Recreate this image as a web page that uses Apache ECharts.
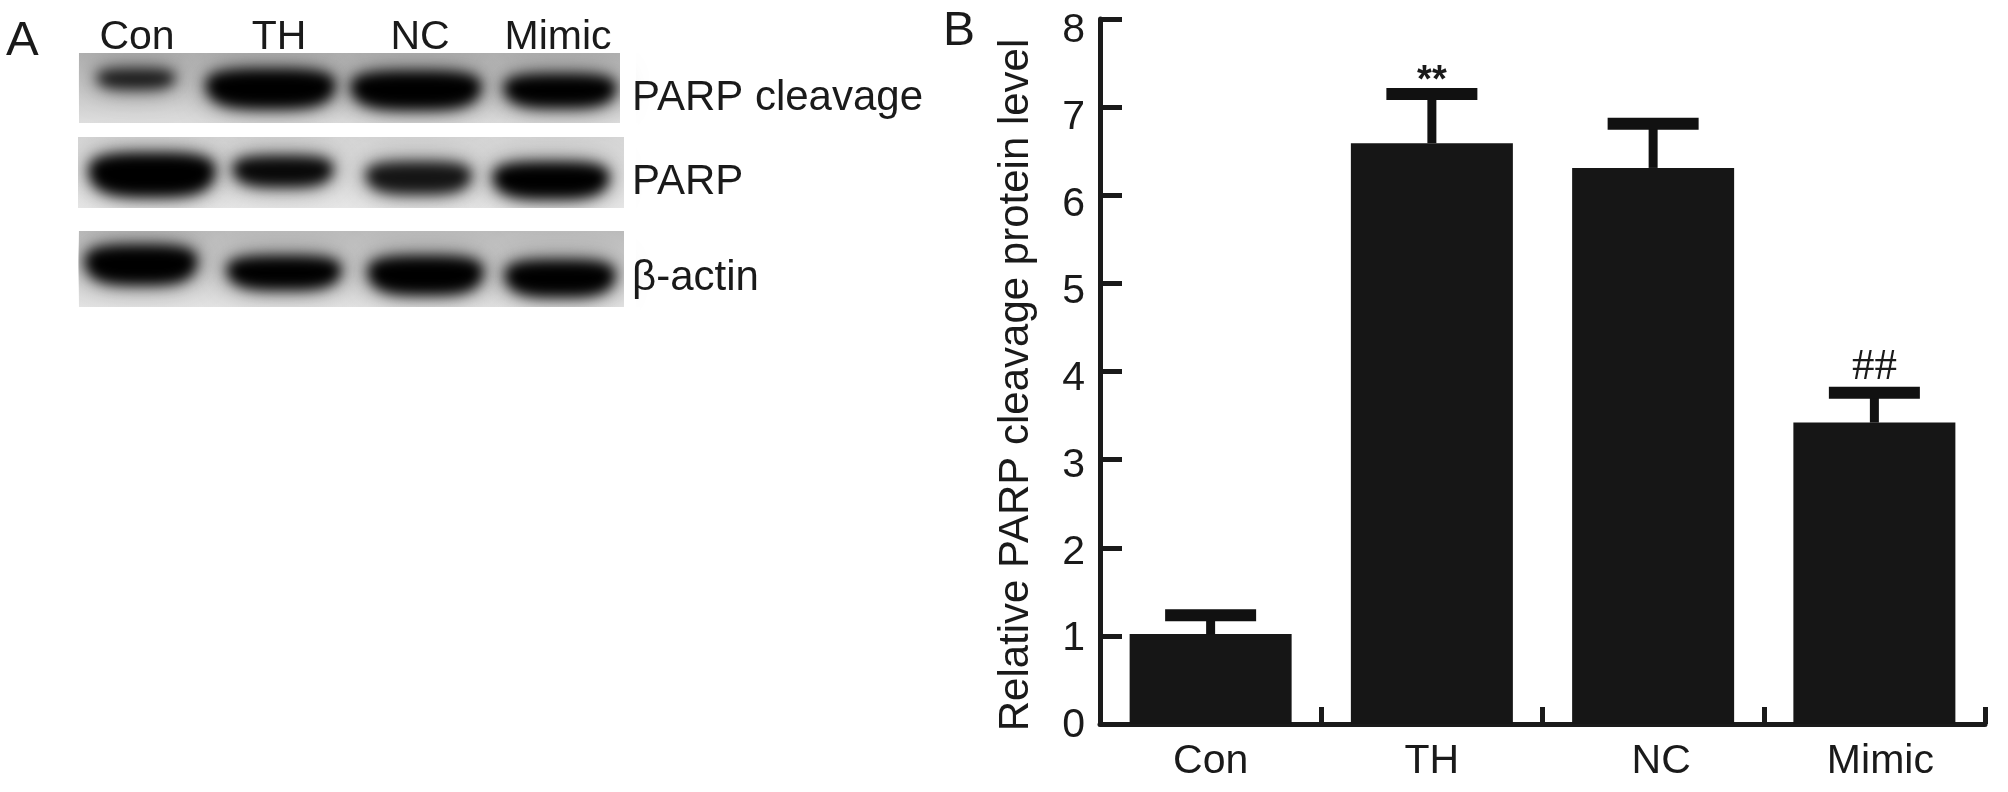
<!DOCTYPE html>
<html>
<head>
<meta charset="utf-8">
<style>
html, body { margin: 0; background: #fff; }
#main { width: 2008px; height: 792px; }
</style>
<script src="https://cdn.jsdelivr.net/npm/echarts@6/dist/echarts.min.js"></script>
</head>
<body>
<div id="main"></div>
<script>
var categories = ['Con', 'TH', 'NC', 'Mimic'];
var barValues = [1.02, 6.59, 6.31, 3.42];
var errorTops = [1.235, 7.15, 6.81, 3.76];
var significance = ['', '**', '', '##'];
var yTicks = ['0', '1', '2', '3', '4', '5', '6', '7', '8'];

// band darkness in the blot, 0 to 1
var blotNames = ['PARP cleavage', 'PARP', 'β-actin'];
var cleavageBands = [0.9, 1, 1, 1];
var parpBands = [1, 0.97, 0.92, 1];
var actinBands = [1, 1, 1, 1];

var FONT = '"Liberation Sans", Arial, sans-serif';
var INK = '#1a1a1a';
var OFF = 3000; // bands are drawn off canvas, only their blurred shadow lands on the blot

// blot layout, pixels
var blotRows = [
    { values: cleavageBands, x: 79, y: 53, w: 541, h: 70, top: '#b0b0b0', bottom: '#dedede', labelY: 108,
      boxes: [[96, 70, 176, 88], [205, 70, 336, 108], [350, 72, 482, 109], [503, 75, 617, 107]] },
    { values: parpBands, x: 78, y: 137, w: 546, h: 71, top: '#d6d6d6', bottom: '#e8e8e8', labelY: 192,
      boxes: [[88, 154, 216, 196], [232, 157, 334, 186], [365, 163, 472, 193], [492, 163, 610, 198]] },
    { values: actinBands, x: 79, y: 231, w: 545, h: 76, top: '#bcbcbc', bottom: '#e4e4e4', labelY: 288,
      boxes: [[84, 246, 198, 284], [226, 257, 342, 289], [367, 257, 484, 294], [504, 261, 616, 296]] }
];
var laneCenters = [137, 279, 420, 558];
// small nudges of the x labels, as they sit in the figure
var xLabelPad = [0, 0, 16, 12];

function bandPoints(b, grow) {
    // flat-ish top, deeper belly, like the smeared bands
    var cx = (b[0] + b[2]) / 2, rx = (b[2] - b[0]) / 2 - 2 + grow;
    var split = b[1] + (b[3] - b[1]) * 0.36;
    var rt = split - b[1] + grow, rb = b[3] - split + grow;
    var pts = [];
    for (var i = 0; i < 64; i++) {
        var a = i / 64 * Math.PI * 2;
        var c = Math.cos(a), s = Math.sin(a);
        var px = cx + rx * (c < 0 ? -1 : 1) * Math.pow(Math.abs(c), 0.6);
        var py = split + (s < 0 ? rt : rb) * (s < 0 ? -1 : 1) * Math.pow(Math.abs(s), 0.8);
        pts.push([px - OFF, py]);
    }
    return pts;
}

function labelText(str, x, baseline, size, align) {
    return {
        type: 'text', z: 5, x: x, y: baseline - size * 0.23,
        style: { text: str, font: size + 'px ' + FONT, fill: INK, verticalAlign: 'middle', align: align || 'left' }
    };
}

function buildBlots() {
    var els = [];
    blotRows.forEach(function (row, r) {
        els.push({
            type: 'rect', z: 1,
            shape: { x: row.x, y: row.y, width: row.w, height: row.h },
            style: { fill: new echarts.graphic.LinearGradient(0, 0, 0, 1, [
                { offset: 0, color: row.top }, { offset: 1, color: row.bottom }]) }
        });
        row.boxes.forEach(function (b, i) {
            var g = Math.round((1 - row.values[i]) * 255);
            var col = 'rgb(' + g + ',' + g + ',' + g + ')';
            // soft smear first, then the dense core
            els.push({
                type: 'polygon', z: 2,
                shape: { points: bandPoints(b, 6) },
                style: { fill: '#000', shadowColor: 'rgba(0,0,0,0.3)', shadowBlur: 26, shadowOffsetX: OFF }
            });
            els.push({
                type: 'polygon', z: 2,
                shape: { points: bandPoints(b, 1) },
                style: { fill: '#000', shadowColor: col, shadowBlur: 13, shadowOffsetX: OFF }
            });
        });
        els.push(labelText(blotNames[r], 632, row.labelY, 42));
    });
    // white strips keep the blur inside each blot
    [[0, 0, 78, 360], [624, 0, 12, 360], [620, 0, 4, 137], [78, 123, 560, 14], [78, 208, 560, 23], [70, 307, 570, 50], [70, 0, 570, 53]]
        .forEach(function (m) {
            els.push({ type: 'rect', z: 3, shape: { x: m[0], y: m[1], width: m[2], height: m[3] }, style: { fill: '#fff' } });
        });
    categories.forEach(function (c, i) {
        els.push(labelText(c, laneCenters[i], 47, 41, 'center'));
    });
    els.push(labelText('A', 6, 53, 49));
    els.push(labelText('B', 943, 43, 48));
    els.push({
        type: 'text', z: 5, x: 1016, y: 385, rotation: Math.PI / 2,
        style: {
            text: 'Relative PARP cleavage protein level', font: '42px ' + FONT, fill: INK,
            align: 'center', verticalAlign: 'middle'
        }
    });
    return els;
}

var chart = echarts.init(document.getElementById('main'));

var rich = {};
xLabelPad.forEach(function (p, i) {
    rich['c' + i] = { fontFamily: FONT, fontSize: 41, color: INK, padding: [0, 0, 0, p] };
});

chart.setOption({
    backgroundColor: '#fff',
    animation: false,
    grid: [
        { left: 1100, right: 23, top: 19, bottom: 68 },
        // tick numbers drift from the ticks in the figure, so they get their own scale
        { left: 1100, right: 23, top: 31, bottom: 66 }
    ],
    xAxis: [
        {
            type: 'category',
            data: categories,
            axisLine: { lineStyle: { color: INK, width: 5 } },
            axisTick: { show: true, inside: true, length: 17, lineStyle: { color: INK, width: 5 } },
            axisLabel: {
                margin: 17,
                formatter: function (v, i) { return '{c' + i + '|' + v + '}'; },
                rich: rich
            }
        },
        { type: 'category', gridIndex: 1, data: categories, show: false }
    ],
    yAxis: [
        {
            type: 'value',
            min: 0,
            max: 8,
            interval: 1,
            splitLine: { show: false },
            axisLine: { show: true, lineStyle: { color: INK, width: 5 } },
            axisTick: { show: true, inside: true, length: 22, lineStyle: { color: INK, width: 5 } },
            axisLabel: { show: false }
        },
        {
            type: 'value',
            gridIndex: 1,
            min: 0,
            max: 8,
            interval: 1,
            splitLine: { show: false },
            axisLine: { show: false },
            axisTick: { show: false },
            axisLabel: {
                fontFamily: FONT, fontSize: 41, color: INK, margin: 15,
                formatter: function (v) { return yTicks[v]; }
            }
        }
    ],
    graphic: buildBlots(),
    series: [
        {
            type: 'bar',
            data: barValues,
            barWidth: 162,
            itemStyle: { color: '#161616' },
            z: 2
        },
        {
            type: 'custom',
            z: 3,
            data: errorTops.map(function (v, i) { return [i, barValues[i], v]; }),
            encode: { x: 0, y: 2 },
            renderItem: function (params, api) {
                var i = api.value(0);
                var base = api.coord([i, api.value(1)]);
                var top = api.coord([i, api.value(2)]);
                var kids = [
                    { type: 'rect', shape: { x: top[0] - 4.5, y: top[1], width: 9, height: base[1] - top[1] }, style: { fill: '#111' } },
                    { type: 'rect', shape: { x: top[0] - 45.5, y: top[1] - 6, width: 91, height: 12 }, style: { fill: '#111' } }
                ];
                if (significance[i] === '**') {
                    kids.push({
                        type: 'text',
                        style: {
                            text: '**', x: top[0], y: top[1] - 12,
                            font: 'bold 38px ' + FONT,
                            fill: INK, align: 'center', verticalAlign: 'middle'
                        }
                    });
                } else if (significance[i]) {
                    kids.push({
                        type: 'text',
                        style: {
                            text: significance[i], x: top[0], y: top[1] - 25,
                            font: '45px "Liberation Serif", serif',
                            fill: INK, align: 'center', verticalAlign: 'middle'
                        }
                    });
                }
                return { type: 'group', children: kids };
            }
        }
    ]
});
</script>
</body>
</html>
